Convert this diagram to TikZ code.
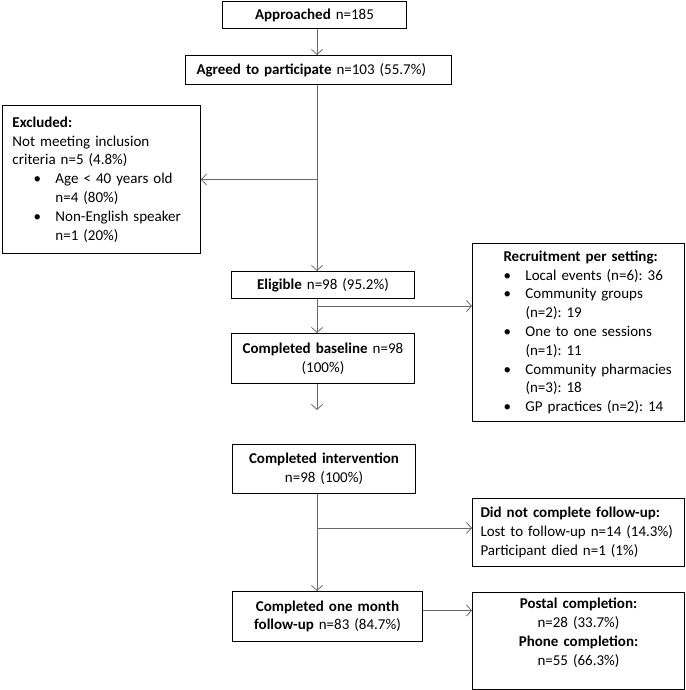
\documentclass[tikz,border=0pt]{standalone}
\usepackage{fontspec}
\setmainfont{Carlito}
\usetikzlibrary{arrows.meta}
\definecolor{gristrait}{RGB}{105,105,105}
\tikzset{
  boite/.style={draw=black,line width=1pt,anchor=north west,inner ysep=2pt,font=\fontsize{15}{18.8}\selectfont\frenchspacing},
  fleche/.style={draw=gristrait,line width=0.9pt,-{Straight Barb[length=5pt,width=11pt,line width=0.8pt]}}
}
\newcommand{\puce}[1]{\hspace*{21pt}\makebox[22pt][l]{\textbullet}\mbox{#1}}
\newcommand{\suite}{\hspace*{43pt}}

\begin{document}
\begin{tikzpicture}[x=1pt,y=-1pt]
\useasboundingbox (0,0) rectangle (685,690);
% Boites
\node[boite,text width=172pt,inner xsep=6pt,minimum height=27pt,align=center] (approached) at (222,1) {\textbf{Approached} n=185};
\node[boite,text width=244pt,inner xsep=11pt,minimum height=29pt,align=left] (agreed) at (185,55) {\textbf{Agreed to participate} n=103 (55.7\%)};
\node[boite,text width=178pt,inner xsep=10pt,minimum height=148pt,align=left] (excluded) at (2,105) {\textbf{Excluded:}\\ Not meeting inclusion\\ criteria n=5 (4.8\%)\\ \puce{Age < 40 years old}\\ \suite n=4 (80\%)\\ \puce{Non-English speaker}\\ \suite n=1 (20\%)};
\node[boite,text width=171pt,inner xsep=6pt,minimum height=27pt,align=center] (eligible) at (231,271) {\textbf{Eligible} n=98 (95.2\%)};
\node[boite,text width=171pt,inner xsep=6pt,minimum height=50pt,align=center] (baseline) at (231,333) {\textbf{Completed baseline} n=98\\ (100\%)};
\node[boite,text width=192pt,inner xsep=10pt,minimum height=178pt,align=left] (recruitment) at (472,243) {\hspace*{21pt}\textbf{Recruitment per setting:}\\ \puce{Local events (n=6): 36}\\ \puce{Community groups}\\ \suite (n=2): 19\\ \puce{One to one sessions}\\ \suite (n=1): 11\\ \puce{Community pharmacies}\\ \suite (n=3): 18\\ \puce{GP practices (n=2): 14}};
\node[boite,text width=171pt,inner xsep=6pt,minimum height=49pt,align=center] (intervention) at (232,444) {\textbf{Completed intervention}\\ n=98 (100\%)};
\node[boite,text width=196pt,inner xsep=8pt,minimum height=68pt,align=left] (dnc) at (472,498) {\mbox{\textbf{Did not complete follow-up:}}\\ \mbox{Lost to follow-up n=14 (14.3\%)}\\ \mbox{Participant died n=1 (1\%)}};
\node[boite,text width=178pt,inner xsep=6pt,minimum height=50pt,align=center] (onemonth) at (232,591) {\textbf{Completed one month}\\ \textbf{follow-up} n=83 (84.7\%)};
\node[boite,text width=200pt,inner xsep=6pt,minimum height=97pt,align=center] (postal) at (472,592) {\textbf{Postal completion:}\\ n=28 (33.7\%)\\ \textbf{Phone completion:}\\ n=55 (66.3\%)\\ \mbox{}};
% Flèches
\coordinate (spine) at (317,0);
\coordinate (tapA) at (317,306);
\coordinate (stop) at (317,410);
\coordinate (tapB) at (317,528);
\draw[fleche] (approached.south -| spine) -- (agreed.north -| spine);
\draw[fleche] (agreed.south -| spine) -- (eligible.north -| spine);
\draw[fleche] (excluded.east -| spine) -- (excluded.east);
\draw[fleche] (eligible.south -| spine) -- (baseline.north -| spine);
\draw[fleche] (tapA) -- (tapA -| recruitment.west);
\draw[fleche] (baseline.south -| spine) -- (stop);
\draw[fleche] (intervention.south -| spine) -- (onemonth.north -| spine);
\draw[fleche] (tapB) -- (tapB -| dnc.west);
\draw[fleche] ([yshift=6pt]onemonth.east) -- ([yshift=6pt]onemonth.east -| postal.west);
\end{tikzpicture}
\end{document}
